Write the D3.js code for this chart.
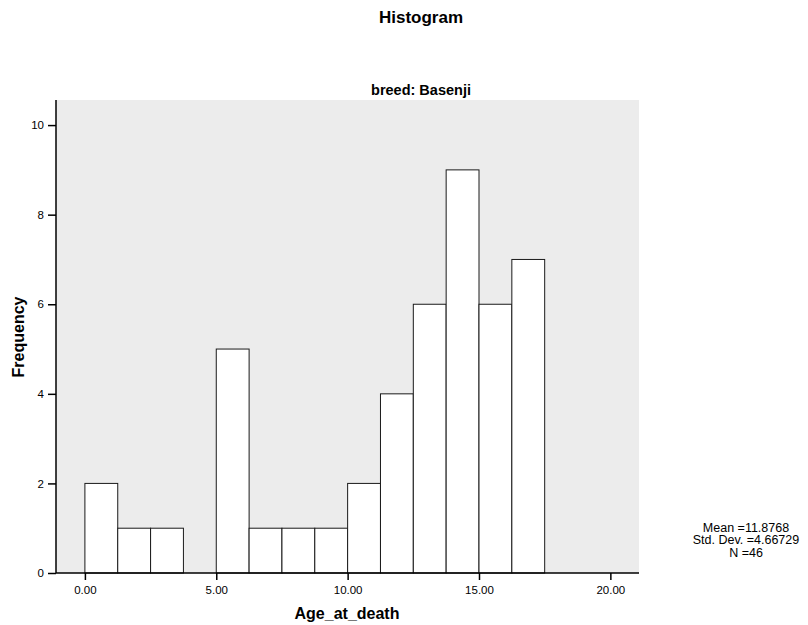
<!DOCTYPE html>
<html><head>
<meta charset="utf-8">
<title>Histogram</title>
<script src="https://d3js.org/d3.v7.min.js"></script>
<style>
  body { margin: 0; background: #fff; }
  svg text { font-family: Arial, "Liberation Sans", sans-serif; fill: #000; }
  .tick text { font-size: 11.5px; }
</style>
</head>
<body>
<svg id="chart" width="808" height="625"></svg>
<script>
// histogram of Age_at_death, breed Basenji
const binWidth = 1.25;
const binStarts = [0, 1.25, 2.5, 3.75, 5, 6.25, 7.5, 8.75, 10, 11.25, 12.5, 13.75, 15, 16.25];
const counts = [2, 1, 1, 0, 5, 1, 1, 1, 2, 4, 6, 9, 6, 7];
const xTicks = [0, 5, 10, 15, 20];
const yTicks = [0, 2, 4, 6, 8, 10];
const stats = ["Mean =11.8768", "Std. Dev. =4.66729", "N =46"];

const svg = d3.select("svg#chart");
const plot = { left: 56, right: 639, top: 100, bottom: 573 };

const x = d3.scaleLinear().domain([-1.1, 21.09]).range([plot.left, plot.right]);
const y = d3.scaleLinear().domain([0, 10.56]).range([plot.bottom, plot.top]);

svg.append("rect")
  .attr("x", plot.left).attr("y", plot.top)
  .attr("width", plot.right - plot.left).attr("height", plot.bottom - plot.top)
  .attr("fill", "#ececec");

const bars = binStarts.map((s, i) => ({ x0: s, x1: s + binWidth, n: counts[i] }));

svg.append("g").selectAll("rect.bar")
  .data(bars.filter(d => d.n > 0))
  .join("rect")
  .attr("class", "bar")
  .attr("x", d => x(d.x0))
  .attr("width", d => x(d.x1) - x(d.x0))
  .attr("y", d => y(d.n))
  .attr("height", d => y(0) - y(d.n))
  .attr("fill", "#fff")
  .attr("stroke", "#1a1a1a")
  .attr("stroke-width", 1);

const xAxis = svg.append("g")
  .attr("transform", `translate(0,${plot.bottom})`)
  .call(d3.axisBottom(x).tickValues(xTicks).tickFormat(d3.format(".2f")).tickSize(7).tickPadding(6));
xAxis.select(".domain").attr("stroke-width", 1.5).attr("d", `M${plot.left},0H${plot.right}`);
xAxis.selectAll(".tick line").attr("stroke-width", 1.5);

const yAxis = svg.append("g")
  .attr("transform", `translate(${plot.left},0)`)
  .call(d3.axisLeft(y).tickValues(yTicks).tickSize(8).tickPadding(4));
yAxis.select(".domain").attr("stroke-width", 1.5).attr("d", `M0,${plot.top}V${plot.bottom}`);
yAxis.selectAll(".tick line").attr("stroke-width", 1.5);

svg.append("text").text("Histogram")
  .attr("x", 421).attr("y", 23)
  .attr("text-anchor", "middle").attr("font-size", "17px").attr("font-weight", "bold");

svg.append("text").text("breed: Basenji")
  .attr("x", 421).attr("y", 95)
  .attr("text-anchor", "middle").attr("font-size", "14.5px").attr("font-weight", "bold");

svg.append("text").text("Age_at_death")
  .attr("x", 347).attr("y", 619)
  .attr("text-anchor", "middle").attr("font-size", "16px").attr("font-weight", "bold");

svg.append("text").text("Frequency")
  .attr("transform", "translate(24,337) rotate(-90)")
  .attr("text-anchor", "middle").attr("font-size", "16px").attr("font-weight", "bold");

svg.append("g").selectAll("text.stat")
  .data(stats)
  .join("text")
  .attr("class", "stat")
  .attr("x", 746)
  .attr("y", (d, i) => 531.5 + i * 12.5)
  .attr("text-anchor", "middle")
  .attr("font-size", "12.5px")
  .text(d => d);
</script>
</body>
</html>
